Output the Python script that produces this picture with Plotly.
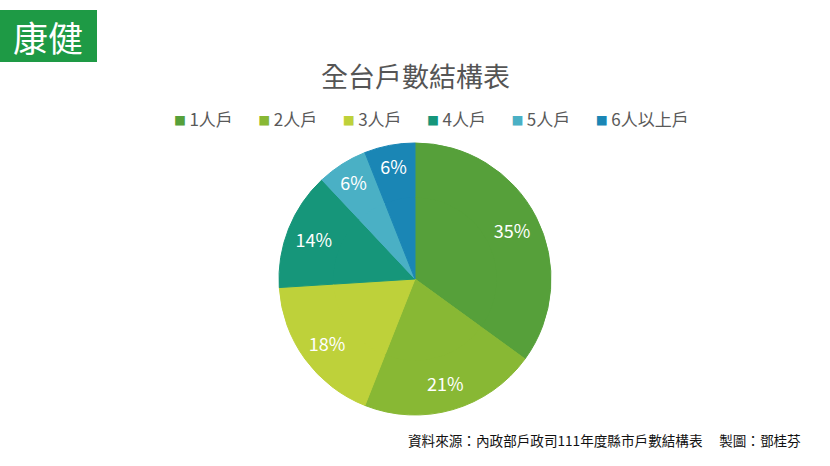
import plotly.graph_objects as go

categories = ["1人戶", "2人戶", "3人戶", "4人戶", "5人戶", "6人以上戶"]
values = [35, 21, 18, 14, 6, 6]
colors = ["#56A03A", "#88B834", "#BED13A", "#16967A", "#4AB0C5", "#1A86B5"]

title_text = "全台戶數結構表"
source_text = "資料來源：內政部戶政司111年度縣市戶數結構表　 製圖：鄧桂芬"
logo_text = "康健"

W, H = 830, 466
cx, cy, r = 415, 279, 136
FONT = "Noto Sans CJK TC, Noto Sans, sans-serif"


def dom(rad):
    return dict(x=[(cx - rad) / W, (cx + rad) / W], y=[(H - cy - rad) / H, (H - cy + rad) / H])


fig = go.Figure()
# inner filler (no text)
inner_r = r * 0.62
fig.add_trace(go.Pie(
    labels=categories, values=values, sort=False, direction="clockwise", rotation=0,
    marker=dict(colors=colors, line=dict(color=colors, width=1)),
    textinfo="none", hoverinfo="label+percent", showlegend=False,
    domain=dom(inner_r),
))
# outer ring carrying the labels
fig.add_trace(go.Pie(
    labels=categories, values=values, sort=False, direction="clockwise", rotation=0,
    hole=0.6,
    marker=dict(colors=colors, line=dict(color=colors, width=1)),
    texttemplate="%{percent:.0%}",
    textposition="inside",
    insidetextorientation="horizontal",
    textfont=dict(family=FONT, size=18, color="white"),
    hoverinfo="label+percent", showlegend=False,
    domain=dom(r),
))

legend_html = "\u3000\u2002".join(
    f"<span style='color:{c}; font-size:12px'>■</span>\u2009{lab}" for lab, c in zip(categories, colors)
)

fig.update_layout(
    width=W, height=H,
    margin=dict(l=0, r=0, t=0, b=0),
    paper_bgcolor="white",
    plot_bgcolor="white",
    font=dict(family=FONT, color="#595959"),
    showlegend=False,
    annotations=[
        dict(text=title_text, x=0.5, y=1 - 75 / H, xref="paper", yref="paper",
             xanchor="center", yanchor="middle", showarrow=False,
             font=dict(size=27, color="#555555")),
        dict(text=legend_html, x=431 / W, y=1 - 118 / H, xref="paper", yref="paper",
             xanchor="center", yanchor="middle", showarrow=False,
             font=dict(size=17, color="#595959")),
        dict(text=source_text, x=803 / W, y=1 - 440 / H, xref="paper", yref="paper",
             xanchor="right", yanchor="middle", showarrow=False,
             font=dict(size=13.6, color="#111111")),
        dict(text=logo_text, x=48 / W, y=1 - 37 / H, xref="paper", yref="paper",
             xanchor="center", yanchor="middle", showarrow=False,
             font=dict(size=35, color="white", family="Noto Sans CJK TC, serif")),
    ],
    shapes=[
        dict(type="rect", xref="paper", yref="paper",
             x0=0, x1=97 / W, y0=1 - 62 / H, y1=1 - 10 / H,
             fillcolor="#1E9A45", line=dict(width=0), layer="below"),
    ],
)

fig.write_html("out.html")
